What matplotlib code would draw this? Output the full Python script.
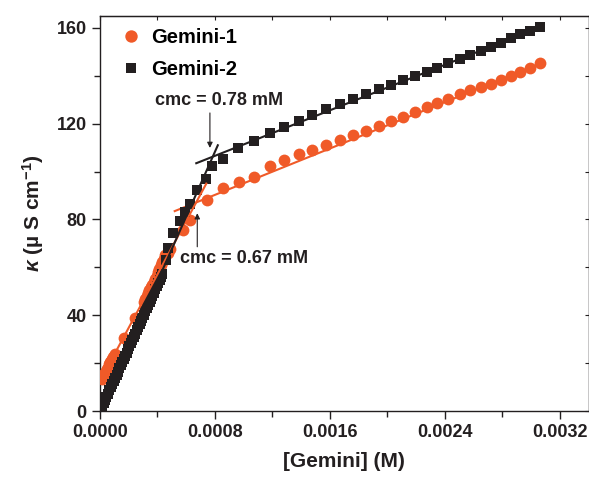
import matplotlib
matplotlib.use('Agg')
import matplotlib.pyplot as plt
from matplotlib.ticker import MultipleLocator

plt.rcParams['font.family'] = ['Liberation Sans', 'DejaVu Sans']
plt.rcParams['font.weight'] = 'bold'
plt.rcParams['axes.labelweight'] = 'bold'
plt.rcParams['mathtext.fontset'] = 'custom'
plt.rcParams['mathtext.rm'] = 'Liberation Sans:bold'
plt.rcParams['mathtext.it'] = 'Liberation Sans:bold:italic'
plt.rcParams['mathtext.bf'] = 'Liberation Sans:bold'

naranja = '#F05A28'
negro = '#231F20'

# Gemini-1 (concentracion en M, conductividad en uS/cm)
conc1 = [0.000012, 0.000018, 0.000024, 0.000030, 0.000036, 0.000042, 0.000048,
         0.000054, 0.000060, 0.000066, 0.000072, 0.000078, 0.000084, 0.000090,
         0.000096, 0.000102, 0.000165, 0.000245, 0.000305, 0.000314, 0.000324,
         0.000334, 0.000344, 0.000354, 0.000364, 0.000374, 0.000384, 0.000394,
         0.000404, 0.000414, 0.000424, 0.000434, 0.000444, 0.000454, 0.000470,
         0.000490, 0.000580, 0.000626, 0.000742, 0.000858, 0.000967, 0.001071,
         0.001183, 0.001282, 0.001384, 0.001477, 0.001570, 0.001670, 0.001758,
         0.001850, 0.001941, 0.002022, 0.002110, 0.002191, 0.002273, 0.002349,
         0.002423, 0.002504, 0.002574, 0.002650, 0.002718, 0.002790, 0.002859,
         0.002922, 0.002991, 0.003061]
kappa1 = [13.2, 13.9, 14.6, 15.3, 16.0, 16.7, 17.4,
          18.1, 18.9, 19.6, 20.3, 21.0, 21.7, 22.4,
          23.1, 23.8, 30.4, 38.8, 45.5, 46.8, 48.0,
          49.2, 50.4, 51.6, 52.8, 54.0, 55.3, 56.6,
          58.0, 59.4, 60.8, 62.2, 63.6, 65.0, 66.0,
          67.5, 75.6, 79.8, 88.1, 93.0, 95.8, 97.9,
          102.5, 104.8, 107.3, 109.0, 111.1, 113.2, 115.3,
          117.0, 119.0, 121.1, 122.9, 124.9, 126.9, 128.5,
          130.3, 132.3, 134.1, 135.5, 136.5, 138.4, 140.1,
          141.8, 143.4, 145.2]

# Gemini-2
conc2 = [0.000005, 0.000015, 0.000025, 0.000035, 0.000045, 0.000055, 0.000065,
         0.000075, 0.000085, 0.000095, 0.000105, 0.000115, 0.000125, 0.000135,
         0.000145, 0.000155, 0.000165, 0.000175, 0.000185, 0.000195, 0.000205,
         0.000215, 0.000225, 0.000235, 0.000245, 0.000255, 0.000265, 0.000275,
         0.000285, 0.000295, 0.000305, 0.000315, 0.000325, 0.000335, 0.000345,
         0.000355, 0.000365, 0.000375, 0.000385, 0.000395, 0.000405, 0.000415,
         0.000425, 0.000435, 0.000458, 0.000470, 0.000508, 0.000557, 0.000592,
         0.000626, 0.000675, 0.000740, 0.000777, 0.000854, 0.000962, 0.001071,
         0.001183, 0.001282, 0.001384, 0.001477, 0.001572, 0.001670, 0.001762,
         0.001850, 0.001941, 0.002022, 0.002110, 0.002191, 0.002273, 0.002349,
         0.002423, 0.002504, 0.002574, 0.002650, 0.002718, 0.002790, 0.002859,
         0.002922, 0.002991, 0.003061]
kappa2 = [0.7, 2.0, 3.3, 4.6, 5.9, 7.3, 8.6,
          9.9, 11.2, 12.5, 13.9, 15.2, 16.5, 17.8,
          19.1, 20.5, 21.8, 23.1, 24.4, 25.7, 27.1,
          28.4, 29.7, 31.0, 32.3, 33.7, 35.0, 36.3,
          37.6, 38.9, 40.3, 41.6, 42.9, 44.2, 45.5,
          46.9, 48.2, 49.5, 50.8, 52.1, 53.5, 54.8,
          56.1, 57.4, 63.0, 68.0, 74.2, 79.5, 83.0,
          86.5, 92.3, 97.0, 102.5, 105.1, 110.0, 112.9,
          116.0, 118.7, 121.3, 123.6, 126.0, 128.2, 130.3,
          132.3, 134.4, 136.2, 138.3, 140.1, 141.7, 143.4,
          145.2, 147.0, 148.7, 150.5, 152.2, 153.6, 155.7,
          157.5, 158.7, 160.3]

# rectas de ajuste antes y despues de la cmc (extremos)
recta1_pre_x = [0.0, 0.00074]
recta1_pre_y = [12.5, 95.0]
recta1_post_x = [0.00052, 0.00306]
recta1_post_y = [83.5, 145.0]
recta2_pre_x = [0.0, 0.00082]
recta2_pre_y = [0.0, 111.0]
recta2_post_x = [0.00067, 0.00306]
recta2_post_y = [103.5, 160.3]

fig = plt.figure(figsize=(5.89, 4.79), dpi=100)
ax = fig.add_axes([100 / 589, 68 / 479, 488.5 / 589, 395 / 479])

ax.plot(conc1, kappa1, 'o', color=naranja, markersize=8.5, markeredgewidth=0, label='Gemini-1', zorder=3)
ax.plot(conc2, kappa2, 's', color=negro, markersize=7.3, markeredgewidth=0, label='Gemini-2', zorder=3)

ax.plot(recta1_pre_x, recta1_pre_y, color=naranja, lw=1.5, zorder=4)
ax.plot(recta1_post_x, recta1_post_y, color=naranja, lw=1.5, zorder=2)
ax.plot(recta2_pre_x, recta2_pre_y, color=negro, lw=1.5, zorder=4)
ax.plot(recta2_post_x, recta2_post_y, color=negro, lw=1.5, zorder=2)

# flechas de la cmc
flecha = dict(arrowstyle='-|>', lw=0.8, color=negro, mutation_scale=8, shrinkA=0, shrinkB=0)
ax.annotate('', xy=(0.000765, 109.9), xytext=(0.000765, 124.5), arrowprops=flecha)
ax.text(0.000828, 129.9, 'cmc = 0.78 mM', fontsize=13, ha='center', va='center', color=negro)
ax.annotate('', xy=(0.000677, 82.6), xytext=(0.000677, 68.6), arrowprops=flecha)
ax.text(0.000557, 63.9, 'cmc = 0.67 mM', fontsize=13, ha='left', va='center', color=negro)

ax.set_xlim(0, 0.0034)
ax.set_ylim(0, 165)
ax.xaxis.set_major_locator(MultipleLocator(0.0008))
ax.xaxis.set_minor_locator(MultipleLocator(0.0004))
ax.yaxis.set_major_locator(MultipleLocator(40))
ax.yaxis.set_minor_locator(MultipleLocator(20))
ax.xaxis.set_major_formatter(lambda v, p: '{:.4f}'.format(v))

ax.tick_params(which='both', direction='out', top=False, right=False, labelsize=13, colors=negro)
ax.tick_params(which='major', length=6, width=1)
ax.tick_params(which='minor', length=4, width=1)

# ticks internos arriba y a la derecha
ax_top = ax.secondary_xaxis('top')
ax_top.xaxis.set_major_locator(MultipleLocator(0.0004))
ax_top.tick_params(direction='in', length=3, labeltop=False, colors=negro)
ax_der = ax.secondary_yaxis('right')
ax_der.yaxis.set_major_locator(MultipleLocator(20))
ax_der.tick_params(direction='in', length=3, labelright=False, colors=negro)

for s in ax.spines.values():
    s.set_color(negro)
    s.set_linewidth(1)

ax.set_xlabel('[Gemini] (M)', fontsize=15, fontweight='bold', color=negro, labelpad=8)
ax.set_ylabel(r'$\kappa$ (µ S cm$^{-1}$)', fontsize=15, fontweight='bold', color=negro, labelpad=8)

ax.legend(loc='upper left', bbox_to_anchor=(0.022, 1.0), frameon=False, fontsize=14.5,
          handlelength=0.8, handletextpad=0.6, labelspacing=0.62, borderaxespad=0.3,
          borderpad=0.3, markerscale=1.05)

fig.savefig('out.png', dpi=100)
